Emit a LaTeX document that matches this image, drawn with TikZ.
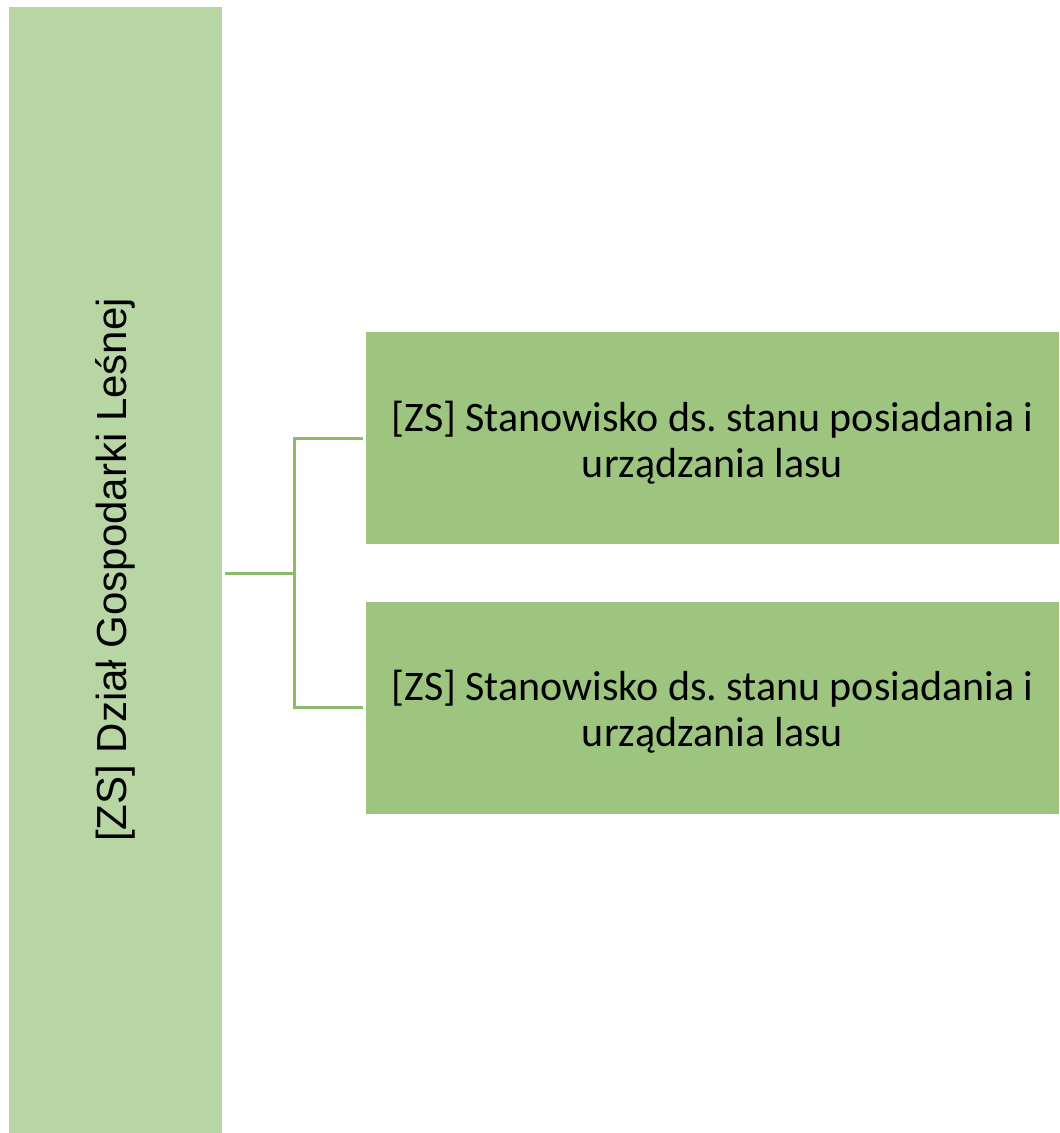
\documentclass[tikz,border=0pt]{standalone}
\usepackage{fontspec}
\setmainfont{Carlito}
\newfontfamily\arialfont{Liberation Sans}
\definecolor{deptgreen}{HTML}{B8D6A3}
\definecolor{postgreen}{HTML}{9DC57F}
\definecolor{linkgreen}{HTML}{8DBB6E}
\frenchspacing
\begin{document}
\begin{tikzpicture}[x=0.5pt,y=-0.5pt,
    deptbox/.style={fill=deptgreen, inner sep=0pt, minimum width=563pt, minimum height=106.5pt,
        font=\arialfont\fontsize{21}{25}\selectfont},
    postbox/.style={fill=postgreen, inner sep=0pt, minimum width=346.5pt, minimum height=106pt,
        align=center, font=\fontsize{21}{23}\selectfont},
    link/.style={draw=linkgreen, line width=1.5pt}]
    \useasboundingbox (0,0) rectangle (1059,1133);
    \node[deptbox, rotate=90](dept) at (115.5,570) {[ZS] Dział Gospodarki Leśnej};
    \node[postbox](post1) at (712.5,438) {};
    \node[postbox](post2) at (712.5,707.5) {};
    \node[align=center, font=\fontsize{21}{23}\selectfont](text1) at (712.5,442.5) {[ZS] Stanowisko ds. stanu posiadania i\\urządzania lasu};
    \node[align=center, font=\fontsize{21}{23}\selectfont](text2) at (712.5,712) {[ZS] Stanowisko ds. stanu posiadania i\\urządzania lasu};
    \coordinate (fork) at (294,573);
    \draw[link] (dept.south |- fork) ++(3,0) -- (fork);
    \draw[link] (post1.west) ++(-3,0) -| (fork) |- ([xshift=-1.5pt]post2.west);
\end{tikzpicture}
\end{document}
